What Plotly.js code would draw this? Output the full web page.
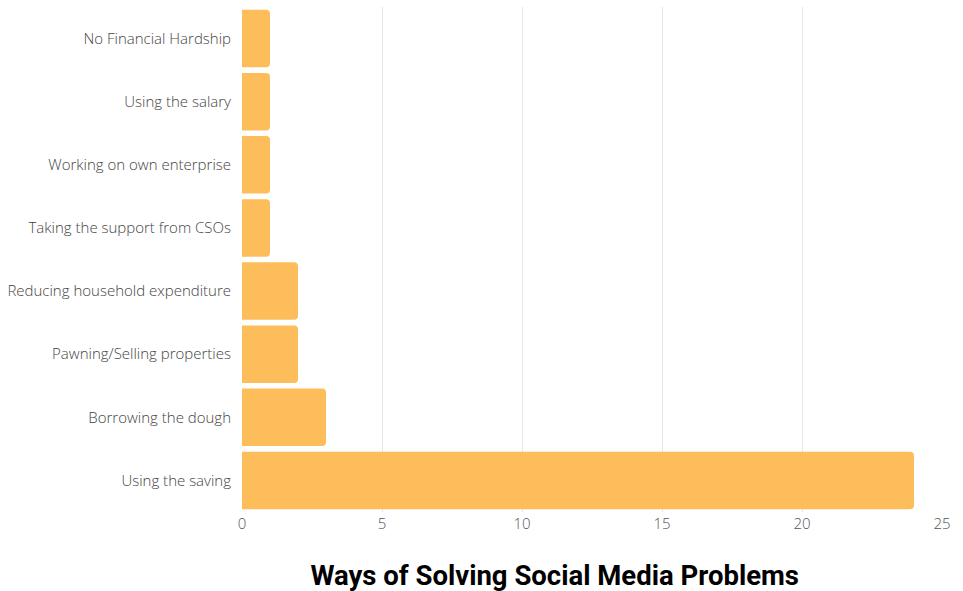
<!DOCTYPE html>
<html><head><meta charset="utf-8">
<script src="https://cdn.plot.ly/plotly-3.0.1.min.js"></script>
<style>html,body{margin:0;padding:0;background:#fff}</style>
</head><body>
<div id="chart" style="width:963px;height:591px"></div>
<script>
const categories = ["Using the saving","Borrowing the dough","Pawning/Selling properties","Reducing household expenditure","Taking the support from CSOs","Working on own enterprise","Using the salary","No Financial Hardship"];
const values = [24,3,2,2,1,1,1,1];
const xTicks = [0,5,10,15,20,25];
const chartTitle = "Ways of Solving Social Media Problems";

Plotly.newPlot("chart",[{
  type:"bar", orientation:"h", y:categories, x:values,
  marker:{color:"#FDBD5A"}, hoverinfo:"x+y"
}],{
  width:963, height:591,
  margin:{l:242,r:21,t:7,b:79},
  bargap:0.09,
  barcornerradius:4,
  paper_bgcolor:"#fff", plot_bgcolor:"#fff",
  font:{family:"Open Sans", size:15, color:"#444", weight:300},
  title:{text:chartTitle, x:0.576, xanchor:"center", xref:"container", y:0.027, yref:"container", yanchor:"middle",
    font:{family:"Roboto", size:27.5, color:"#000", weight:700}},
  xaxis:{range:[0,25], tickvals:xTicks, showgrid:true, gridcolor:"#e6e6e6", zeroline:false,
    tickfont:{family:"Open Sans", size:15, color:"#555", weight:300}, ticks:"", ticklen:0, ticklabelstandoff:1},
  yaxis:{tickfont:{family:"Open Sans", size:15, color:"#444", weight:300}, ticks:"", ticklen:0, ticklabelstandoff:10, automargin:false},
  showlegend:false
},{displayModeBar:false, staticPlot:true});
</script>
</body></html>
